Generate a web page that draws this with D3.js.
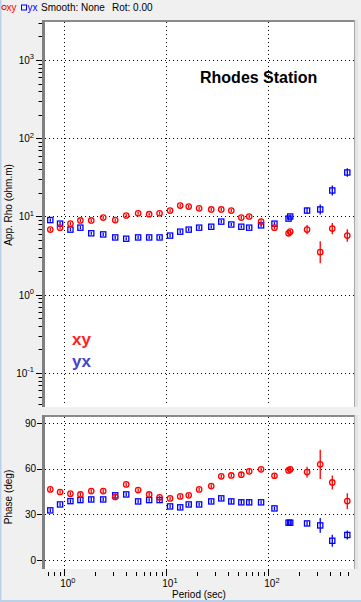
<!DOCTYPE html>
<html><head><meta charset="utf-8">
<script src="https://cdn.jsdelivr.net/npm/d3@7"></script>
<style>
body{margin:0;background:#f0f0f0;}
svg{display:block;font-family:"Liberation Sans",Arial,sans-serif;}
</style>
</head><body>
<svg id="c" width="361" height="602"></svg>
<script>
// ---- data ----
const periods  = [0.73,0.91,1.15,1.44,1.84,2.41,3.16,4.05,5.3,6.8,8.6,10.9,13.7,16.6,21,27.6,34.6,43.4,54.4,65,85,115,158,164,240,323,424,595];
const rhoXY    = [6.8,7.2,8.1,8.9,8.9,9.7,9.0,10.3,11.0,10.7,11.0,11.9,13.8,13.4,12.7,12.3,12.3,11.9,9.7,10.0,8.6,7.2,6.1,6.4,6.8,3.5,7.0,5.7];
const rhoXYErr = [0.02,0.02,0.02,0.02,0.02,0.02,0.02,0.02,0.02,0.02,0.02,0.02,0.02,0.02,0.02,0.02,0.02,0.02,0.02,0.02,0.03,0.02,0.025,0.025,0.06,0.14,0.073,0.08];
const rhoYX    = [9.0,8.1,6.8,7.2,6.1,5.9,5.4,5.2,5.4,5.4,5.4,5.7,6.4,6.8,7.2,7.4,8.6,7.9,7.4,7.2,7.7,8.1,9.4,10.0,11.9,12.3,21.5,36.5];
const rhoYXErr = [0.02,0.02,0.02,0.02,0.02,0.02,0.02,0.02,0.02,0.02,0.02,0.02,0.02,0.02,0.02,0.02,0.02,0.02,0.02,0.02,0.02,0.02,0.025,0.025,0.04,0.064,0.064,0.055];
const phsXY    = [46.5,44.8,43.7,43.2,45.4,45.4,41.5,49.8,46.1,43.2,41.3,40.6,41.9,42.6,46.5,48.7,55.1,55.7,56.2,58.4,59.7,55.5,59.0,59.7,57.9,63.0,51.1,38.8];
const phsXYErr = [1.2,1.2,1.2,1.2,1.2,1.2,1.2,1.2,1.2,1.2,1.2,1.2,1.2,1.2,1.2,1.2,1.2,1.2,1.2,1.2,1.2,1.4,1.4,1.4,3.6,9.7,4.6,5.2];
const phsYX    = [32.7,36.6,38.8,39.5,39.9,39.9,42.6,43.2,38.6,39.5,39.5,35.3,34.7,36.6,36.6,38.6,40.6,38.6,38.0,38.0,38.0,34.0,24.6,24.6,24.1,22.8,12.7,16.5];
const phsYXErr = [1.2,1.2,1.2,1.2,1.4,1.2,1.2,1.2,1.2,1.2,1.2,1.2,1.2,1.2,1.2,1.2,1.2,1.5,1.5,1.5,1.2,1.2,1.6,1.6,1.5,4.9,4.0,3.0];
const rhoTicks    = [0.1,1,10,100,1000];
const rhoTickExp  = ["-1","0","1","2","3"];
const phaseTicks  = [0,30,60,90];
const periodTicks = [1,10,100];
const periodTickExp = ["0","1","2"];

// ---- layout ----
const svg = d3.select("#c");
const L = 42, R = 355;
const top1 = 20, bot1 = 407, top2 = 415, bot2 = 569;
const RED = "#ff0000", BLUE = "#0000ff";

const x  = d3.scaleLog().domain([Math.pow(10,-0.218), Math.pow(10,2.85)]).range([L, R]);
const yR = d3.scaleLog().domain([Math.pow(10,-1.4345), Math.pow(10,3.511)]).range([bot1, top1]);
const yP = d3.scaleLinear().domain([-5.9, 95.5]).range([bot2, top2]);

// window edge
svg.append("rect").attr("x",0).attr("y",0).attr("width",1.5).attr("height",602).attr("fill","#b9d1ea");
svg.append("rect").attr("x",0).attr("y",600).attr("width",361).attr("height",2).attr("fill","#b9d1ea");

// header
const hdr = svg.append("g").attr("font-size",10);
hdr.append("circle").attr("cx",4).attr("cy",7.5).attr("r",2.2).attr("fill","none").attr("stroke",RED).attr("stroke-width",1);
hdr.append("text").attr("x",6.5).attr("y",11).attr("fill",RED).text("xy");
hdr.append("rect").attr("x",21.5).attr("y",5).attr("width",5).attr("height",5).attr("fill","none").attr("stroke",BLUE).attr("stroke-width",1);
hdr.append("text").attr("x",27.5).attr("y",11).attr("fill",BLUE).text("yx");
hdr.append("text").attr("x",41).attr("y",11).attr("fill","#000").text("Smooth: None");
hdr.append("text").attr("x",112).attr("y",11).attr("fill","#000").text("Rot: 0.00");

function panel(y0, y1, id){
  svg.append("rect").attr("x",L).attr("y",y0).attr("width",R-L).attr("height",y1-y0).attr("fill","#fff");
  svg.append("clipPath").attr("id",id).append("rect").attr("x",L+3).attr("y",y0+2).attr("width",R-L-4).attr("height",y1-y0-3);
}
function borders(y0, y1){
  svg.append("rect").attr("x",L).attr("y",y0).attr("width",R-L).attr("height",2).attr("fill","#8a8a8a");
  svg.append("rect").attr("x",L).attr("y",y0).attr("width",3).attr("height",y1-y0).attr("fill","#808080");
  svg.append("rect").attr("x",R-1).attr("y",y0).attr("width",1).attr("height",y1-y0).attr("fill","#a8a8a8");
  svg.append("rect").attr("x",R).attr("y",y0).attr("width",3).attr("height",y1-y0).attr("fill","#e4e4e4");
}
panel(top1, bot1, "clipTop");
panel(top2, bot2, "clipBot");

const dash = "1,3";
// grids top
const gTop = svg.append("g").attr("clip-path","url(#clipTop)");
gTop.selectAll("line.h").data(rhoTicks).join("line")
  .attr("x1",L+3).attr("x2",R).attr("y1",d=>Math.round(yR(d))+0.5).attr("y2",d=>Math.round(yR(d))+0.5)
  .attr("stroke","#000").attr("stroke-dasharray",dash);
gTop.selectAll("line.v").data(periodTicks).join("line")
  .attr("y1",top1+2).attr("y2",bot1).attr("x1",d=>Math.round(x(d))+0.5).attr("x2",d=>Math.round(x(d))+0.5)
  .attr("stroke","#000").attr("stroke-dasharray",dash);
// grids bottom
const gBot = svg.append("g").attr("clip-path","url(#clipBot)");
gBot.selectAll("line.h").data(phaseTicks).join("line")
  .attr("x1",L+3).attr("x2",R).attr("y1",d=>Math.round(yP(d))+0.5).attr("y2",d=>Math.round(yP(d))+0.5)
  .attr("stroke","#000").attr("stroke-dasharray",dash);
svg.selectAll("line.vb").data(periodTicks).join("line")
  .attr("y1",top2+2).attr("y2",bot2+6).attr("x1",d=>Math.round(x(d))+0.5).attr("x2",d=>Math.round(x(d))+0.5)
  .attr("stroke","#000").attr("stroke-dasharray",dash);

borders(top1, bot1);
borders(top2, bot2);

// y ticks rho
const minorR = [];
for (let e=-2; e<=3; e++) for (let m=1; m<=9; m++){
  const v = m*Math.pow(10,e);
  if (yR(v) >= top1+1 && yR(v) <= bot1-1) minorR.push({v, major: m===1});
}
svg.append("g").selectAll("line").data(minorR).join("line")
  .attr("x1",d=>d.major?36:38.5).attr("x2",L).attr("y1",d=>Math.round(yR(d.v))+0.5).attr("y2",d=>Math.round(yR(d.v))+0.5)
  .attr("stroke","#000").attr("stroke-width",1);
const rl = svg.append("g").attr("font-size",10).attr("fill","#000");
rhoTicks.forEach((t,i)=>{
  const tx = rl.append("text").attr("x",34).attr("y",yR(t)+4).attr("text-anchor","end");
  tx.append("tspan").text("10");
  tx.append("tspan").attr("font-size",7.5).attr("dy",-4.5).text(rhoTickExp[i]);
});

// y ticks phase
svg.append("g").selectAll("line").data(phaseTicks).join("line")
  .attr("x1",37).attr("x2",L).attr("y1",d=>Math.round(yP(d))+0.5).attr("y2",d=>Math.round(yP(d))+0.5)
  .attr("stroke","#000");
svg.append("g").attr("font-size",10).selectAll("text").data(phaseTicks).join("text")
  .attr("x",36).attr("y",d=>yP(d)+3.5).attr("text-anchor","end").text(d=>d);

// x ticks
const minorX = [];
for (let e=-1; e<=2; e++) for (let m=1; m<=9; m++){
  const v = m*Math.pow(10,e);
  if (x(v) >= L+3 && x(v) <= R-2) minorX.push({v, major: m===1});
}
svg.append("g").selectAll("line").data(minorX).join("line")
  .attr("x1",d=>Math.round(x(d.v))+0.5).attr("x2",d=>Math.round(x(d.v))+0.5)
  .attr("y1",d=>d.major?bot2+1:bot2+3).attr("y2",bot2+7).attr("stroke","#000");
const xl = svg.append("g").attr("font-size",10);
periodTicks.forEach((t,i)=>{
  const tx = xl.append("text").attr("x",x(t)-4).attr("y",587);
  tx.append("tspan").text("10");
  tx.append("tspan").attr("font-size",7.5).attr("dy",-4.5).text(periodTickExp[i]);
});

// axis titles
svg.append("text").attr("transform","translate(12,205) rotate(-90)").attr("text-anchor","middle").attr("font-size",10).text("App. Rho (ohm.m)");
svg.append("text").attr("transform","translate(12,497) rotate(-90)").attr("text-anchor","middle").attr("font-size",10).text("Phase (deg)");
svg.append("text").attr("x",199).attr("y",598).attr("text-anchor","middle").attr("font-size",10).text("Period (sec)");

// annotations
svg.append("text").attr("x",200).attr("y",83).attr("font-size",16).attr("font-weight","bold").text("Rhodes Station");
svg.append("text").attr("x",72).attr("y",345).attr("font-size",17).attr("font-weight","bold").attr("fill","#f22").text("xy");
svg.append("text").attr("x",72).attr("y",367).attr("font-size",17).attr("font-weight","bold").attr("fill","#4444cc").text("yx");

// data marks
function series(g, yScale, vals, errs, isLog, color, shape){
  const data = periods.map((p,i)=>({p, v: vals[i], e: errs[i]}));
  const lo = d => isLog ? d.v/Math.pow(10,d.e) : d.v - d.e;
  const hi = d => isLog ? d.v*Math.pow(10,d.e) : d.v + d.e;
  g.append("g").selectAll("line").data(data).join("line")
    .attr("x1",d=>x(d.p)).attr("x2",d=>x(d.p)).attr("y1",d=>yScale(lo(d))).attr("y2",d=>yScale(hi(d)))
    .attr("stroke",color).attr("stroke-width",1.3);
  if (shape==="circle"){
    g.append("g").selectAll("circle").data(data).join("circle")
      .attr("cx",d=>x(d.p)).attr("cy",d=>yScale(d.v)).attr("r",2.7)
      .attr("fill","none").attr("stroke",color).attr("stroke-width",1.3);
  } else {
    g.append("g").selectAll("rect").data(data).join("rect")
      .attr("x",d=>x(d.p)-2.6).attr("y",d=>yScale(d.v)-2.6).attr("width",5.2).attr("height",5.2)
      .attr("fill","none").attr("stroke",color).attr("stroke-width",1.3);
  }
}
const mTop = svg.append("g").attr("clip-path","url(#clipTop)");
series(mTop, yR, rhoYX, rhoYXErr, true, BLUE, "square");
series(mTop, yR, rhoXY, rhoXYErr, true, RED, "circle");
const mBot = svg.append("g").attr("clip-path","url(#clipBot)");
series(mBot, yP, phsYX, phsYXErr, false, BLUE, "square");
series(mBot, yP, phsXY, phsXYErr, false, RED, "circle");
</script>
</body></html>
